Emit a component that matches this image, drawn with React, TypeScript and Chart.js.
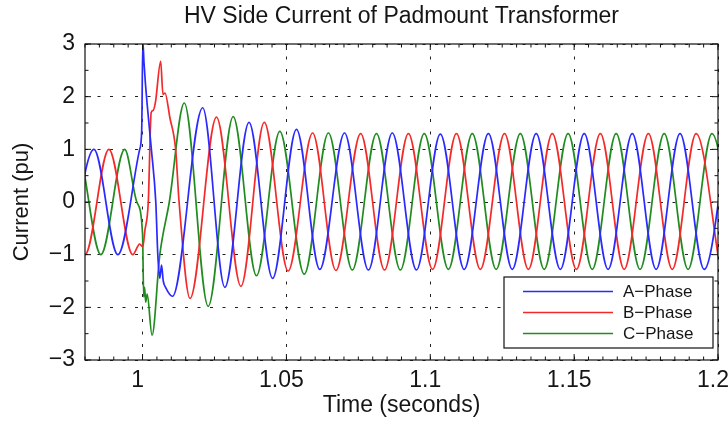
import React, { useEffect, useRef } from 'react';
import { Chart, registerables } from 'chart.js';

Chart.register(...registerables);

// ---- data (time in s, current in pu) ----
const timeA = [0.9748, 0.9831, 0.9914, 0.999, 0.9997, 1.0001, 1.0005, 1.001, 1.0019, 1.0031, 1.0046, 1.0053, 1.006, 1.0066, 1.0072, 1.008, 1.0104, 1.0209, 1.0286, 1.037, 1.0452, 1.0535, 1.0616, 1.0702, 1.0785, 1.0868, 1.0952, 1.1035, 1.1118, 1.1202, 1.1285, 1.1368, 1.1452, 1.1535, 1.1618, 1.1702, 1.1785, 1.1868, 1.1952, 1.2035];
const currentA = [-1.0, 1.0, -1.0, 1.0, 1.35, 3.05, 2.65, 2.25, 1.68, 0.98, 0.0, -1.0, -1.45, -1.2, -1.5, -1.62, -1.79, 1.79, -1.62, 1.51, -1.45, 1.38, -1.28, 1.31, -1.29, 1.31, -1.29, 1.29, -1.28, 1.3, -1.28, 1.3, -1.28, 1.3, -1.28, 1.3, -1.28, 1.3, -1.28, 1.3];

const timeB = [0.9717, 0.98, 0.9883, 0.9966, 0.999, 1.0001, 1.0008, 1.002, 1.003, 1.0037, 1.0045, 1.0063, 1.0071, 1.0078, 1.0095, 1.0115, 1.0127, 1.0165, 1.0257, 1.0342, 1.0423, 1.0506, 1.0591, 1.0672, 1.0758, 1.0841, 1.0924, 1.1008, 1.1091, 1.1174, 1.1258, 1.1341, 1.1424, 1.1508, 1.1591, 1.1674, 1.1758, 1.1841, 1.1924, 1.2008];
const currentB = [1.0, -1.0, 1.0, -1.0, -0.8, -0.85, -0.55, 0.0, 1.7, 1.74, 1.9, 2.67, 2.04, 2.07, 1.6, 1.0, 0.0, -1.83, 1.61, -1.6, 1.51, -1.31, 1.31, -1.3, 1.3, -1.29, 1.3, -1.28, 1.3, -1.28, 1.3, -1.28, 1.3, -1.28, 1.3, -1.28, 1.3, -1.28, 1.3, -1.28];

const timeC = [0.9689, 0.9772, 0.9855, 0.9938, 0.998, 1.0, 1.0004, 1.0007, 1.0011, 1.0016, 1.0033, 1.006, 1.0093, 1.0145, 1.0228, 1.0315, 1.0396, 1.0477, 1.0562, 1.0646, 1.0729, 1.0813, 1.0896, 1.0979, 1.1063, 1.1146, 1.1229, 1.1313, 1.1396, 1.1479, 1.1563, 1.1646, 1.1729, 1.1813, 1.1896, 1.1979, 1.2063];
const currentC = [-1.0, 1.0, -1.0, 1.0, 0.0, -0.6, -1.8, -1.62, -1.9, -1.75, -2.53, -1.0, 0.0, 1.88, -1.98, 1.62, -1.4, 1.34, -1.37, 1.31, -1.29, 1.3, -1.29, 1.3, -1.28, 1.3, -1.28, 1.3, -1.28, 1.3, -1.28, 1.3, -1.28, 1.3, -1.28, 1.3, -1.28];

const seriesLabels = ['A\u2212Phase', 'B\u2212Phase', 'C\u2212Phase'];
const xTickValues = [1, 1.05, 1.1, 1.15, 1.2];
const yTickValues = [-3, -2, -1, 0, 1, 2, 3];
const xRange = [0.98, 1.2];
const yRange = [-3, 3];

const chartTitle = 'HV Side Current of Padmount Transformer';
const xTitle = 'Time (seconds)';
const yTitle = 'Current (pu)';

const FONT = '"Liberation Sans", Arial, Helvetica, sans-serif';
const TEXT = '#151515';
const COLORS = ['#2a2aff', '#f42a2a', '#208c20'];

const toPoints = (t: number[], v: number[]) => t.map((x, i) => ({ x, y: v[i] }));

const matlabFrame = {
  id: 'matlabFrame',
  afterDraw(chart: any) {
    const { ctx, chartArea: a, scales } = chart;
    const xs = scales.x;
    const ys = scales.y;
    ctx.save();
    ctx.strokeStyle = '#111';
    ctx.lineWidth = 1.2;
    ctx.setLineDash([]);
    ctx.strokeRect(a.left, a.top, a.right - a.left, a.bottom - a.top);

    const seg = (x1: number, y1: number, x2: number, y2: number) => {
      ctx.beginPath();
      ctx.moveTo(x1, y1);
      ctx.lineTo(x2, y2);
      ctx.stroke();
    };
    ctx.lineWidth = 1;
    // x ticks (inward), minor every 0.005
    for (let k = Math.ceil(xs.min / 0.005 - 1e-6); k * 0.005 <= xs.max + 1e-9; k++) {
      const v = k * 0.005;
      const px = xs.getPixelForValue(v);
      const major = xTickValues.some((t) => Math.abs(t - v) < 1e-6);
      const len = major ? 6 : 3.5;
      seg(px, a.bottom, px, a.bottom - len);
      seg(px, a.top, px, a.top + len);
    }
    // y ticks (inward), minor every 0.5
    for (let k = Math.ceil(ys.min / 0.5 - 1e-6); k * 0.5 <= ys.max + 1e-9; k++) {
      const v = k * 0.5;
      const py = ys.getPixelForValue(v);
      const major = yTickValues.some((t) => Math.abs(t - v) < 1e-6);
      const len = major ? 6 : 3.5;
      seg(a.left, py, a.left + len, py);
      seg(a.right, py, a.right - len, py);
    }

    // legend box, lower right inside the axes
    const w = 209;
    const h = 71;
    const bx = a.right - 5 - w;
    const by = a.bottom - 12 - h;
    ctx.fillStyle = '#fff';
    ctx.fillRect(bx, by, w, h);
    ctx.strokeStyle = '#111';
    ctx.lineWidth = 1.2;
    ctx.strokeRect(bx, by, w, h);
    ctx.font = `17px ${FONT}`;
    ctx.textBaseline = 'middle';
    ctx.textAlign = 'left';
    chart.data.datasets.forEach((ds: any, i: number) => {
      const cy = by + 14.5 + i * 21;
      ctx.strokeStyle = ds.borderColor;
      ctx.lineWidth = 1.5;
      seg(bx + 19, cy, bx + 109, cy);
      ctx.fillStyle = TEXT;
      ctx.fillText(ds.label, bx + 119, cy + 1);
    });
    ctx.restore();
  },
};

export default function App() {
  const canvasRef = useRef<HTMLCanvasElement | null>(null);

  useEffect(() => {
    document.body.style.margin = '0';
    const canvas = canvasRef.current;
    if (!canvas) return;
    const series = [
      toPoints(timeA, currentA),
      toPoints(timeB, currentB),
      toPoints(timeC, currentC),
    ];
    const chart = new Chart(canvas, {
      type: 'line',
      data: {
        datasets: series.map((data, i) => ({
          label: seriesLabels[i],
          data,
          borderColor: COLORS[i],
          backgroundColor: COLORS[i],
          borderWidth: 1.7,
          pointRadius: 0,
          fill: false,
          cubicInterpolationMode: 'monotone' as const,
          clip: 0,
        })),
      },
      options: {
        animation: false,
        responsive: false,
        devicePixelRatio: 1,
        layout: { padding: { top: 0, right: 10, bottom: 0, left: 0 } },
        plugins: {
          legend: { display: false },
          tooltip: { enabled: false },
          title: {
            display: true,
            text: chartTitle,
            fullSize: false,
            color: TEXT,
            font: { family: FONT, size: 23, weight: 'normal' },
            padding: { top: 3, bottom: 13.4 },
          },
        },
        scales: {
          x: {
            type: 'linear',
            min: xRange[0],
            max: xRange[1],
            afterBuildTicks: (s: any) => {
              s.ticks = xTickValues.map((value) => ({ value }));
            },
            afterFit: (s: any) => {
              s.height = 61;
              s.paddingLeft = 0;
              s.paddingRight = 0;
            },
            ticks: {
              autoSkip: false,
              maxRotation: 0,
              padding: 7,
              labelOffset: -5,
              color: TEXT,
              font: { family: FONT, size: 23 },
              callback: (v: any) => String(v),
            },
            grid: { color: '#222', lineWidth: 1, drawTicks: false },
            border: { display: false, dash: [3, 9.5] },
            title: {
              display: true,
              text: xTitle,
              color: TEXT,
              font: { family: FONT, size: 23 },
              padding: { top: 0, bottom: 2 },
            },
          },
          y: {
            type: 'linear',
            min: yRange[0],
            max: yRange[1],
            afterBuildTicks: (s: any) => {
              s.ticks = yTickValues.map((value) => ({ value }));
            },
            afterFit: (s: any) => {
              s.width = 85;
              s.paddingTop = 0;
              s.paddingBottom = 0;
            },
            ticks: {
              padding: 10,
              color: TEXT,
              font: { family: FONT, size: 23 },
              callback: (v: any) => (v < 0 ? '\u2212' + Math.abs(v) : String(v)),
            },
            grid: { color: '#222', lineWidth: 1, drawTicks: false },
            border: { display: false, dash: [3, 9.5] },
            title: {
              display: true,
              text: yTitle,
              color: TEXT,
              font: { family: FONT, size: 22 },
              padding: { top: 9, bottom: 0 },
            },
          },
        },
      },
      plugins: [matlabFrame],
    });
    return () => chart.destroy();
  }, []);

  return (
    <div style={{ width: 728, height: 421, background: '#fff' }}>
      <canvas ref={canvasRef} width={728} height={421} />
    </div>
  );
}
